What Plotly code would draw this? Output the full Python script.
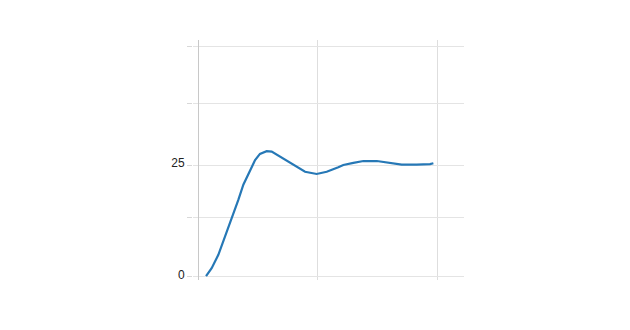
import plotly.graph_objects as go

# Data (step-response-like curve)
x_vals = [0.67, 1.14, 1.7, 2.26, 2.82, 3.37, 3.79, 4.35, 4.77, 5.18, 5.74, 6.16,
          6.58, 7.42, 8.25, 8.95, 9.92, 10.76, 11.73, 12.15, 12.99, 13.83, 14.95,
          16.05, 17.03, 18.28, 19.4, 19.68]
y_vals = [0.15, 1.9, 4.9, 9.0, 12.7, 17.2, 20.6, 23.9, 26.1, 27.5, 28.1, 28.0,
          27.3, 26.0, 24.5, 23.5, 23.0, 23.5, 24.5, 25.0, 25.5, 25.9, 25.9,
          25.5, 25.1, 25.1, 25.2, 25.4]

y_tick_vals = [0, 13.3, 25, 38.7, 51.5]
y_tick_text = ["0", "", "25", "", ""]
x_tick_vals = [0, 10, 20]

fig = go.Figure()
fig.add_trace(go.Scatter(
    x=x_vals, y=y_vals, mode="lines",
    line=dict(color="#2678b6", width=2.2),
    showlegend=False, hoverinfo="skip",
))

fig.update_layout(
    width=630, height=330,
    margin=dict(l=193, r=166, t=40, b=50),
    paper_bgcolor="white", plot_bgcolor="white",
    font=dict(family="Liberation Sans, Arial, sans-serif", size=12, color="#222"),
    xaxis=dict(
        range=[-0.42, 22.24], tickvals=x_tick_vals, showticklabels=False,
        showgrid=True, gridcolor="#dedede", gridwidth=1,
        zeroline=True, zerolinecolor="#c8c8c8", zerolinewidth=1,
        showline=False, ticks="",
    ),
    yaxis=dict(
        range=[-0.74, 53.0], tickvals=y_tick_vals, ticktext=y_tick_text,
        showgrid=True, gridcolor="#e4e4e4", gridwidth=1,
        zeroline=False, showline=False,
        ticks="outside", ticklen=5, tickcolor="#d8d8d8",
        ticklabelshift=-2,
    ),
)

fig.write_html("out.html")
